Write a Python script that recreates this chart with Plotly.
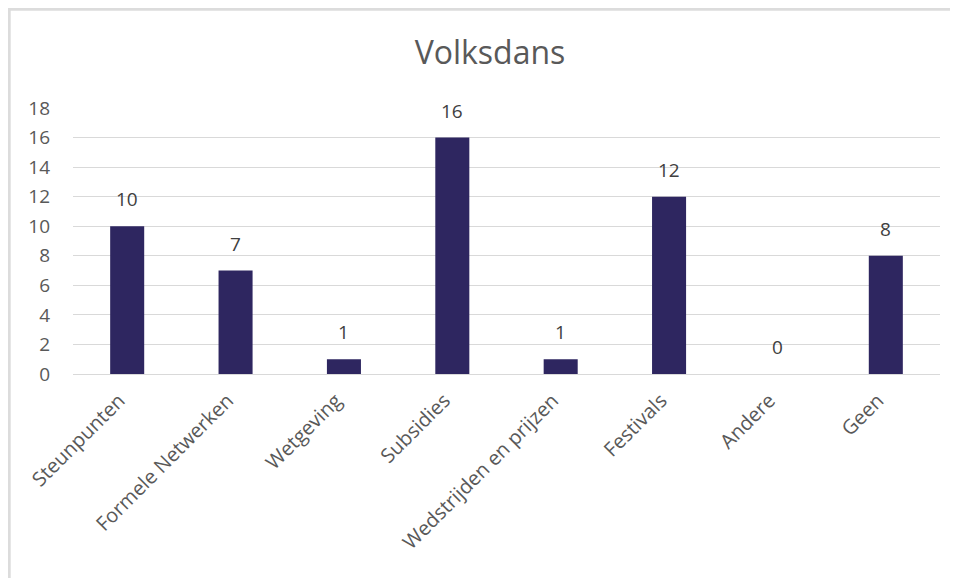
import plotly.graph_objects as go

categories = ["Steunpunten", "Formele Netwerken", "Wetgeving", "Subsidies",
              "Wedstrijden en prijzen", "Festivals", "Andere", "Geen"]
values = [10, 7, 1, 16, 1, 12, 0, 8]
y_ticks = [0, 2, 4, 6, 8, 10, 12, 14, 16, 18]

# page body has an 8px margin, so the figure is 8px smaller and offsets are shifted
OFF = 8
W, H = 958 - OFF, 578 - OFF
L, R, T, B = 73 - OFF, 958 - 940, 108 - OFF, 578 - 374
pw, ph = W - L - R, H - T - B

def px(x):
    return (x - L) / pw

def py(y):
    return (H - B - y) / ph

FONT = "Open Sans"
GREY = "#595959"

fig = go.Figure(go.Bar(
    x=categories, y=values,
    marker=dict(color="#2E2660", line=dict(color="#2E2660", width=0)),
    cliponaxis=False,
))

for c, v in zip(categories, values):
    fig.add_annotation(x=c, y=v, text=str(v), showarrow=False,
                       yanchor="middle", yshift=27,
                       font=dict(family=FONT, size=19, color="#404040"))

fig.update_layout(
    width=W, height=H,
    margin=dict(l=L, r=R, t=T, b=B, autoexpand=False),
    paper_bgcolor="white", plot_bgcolor="white",
    showlegend=False,
    bargap=0.686,
    title=dict(text="Volksdans", x=(490 - OFF) / W, xanchor="center", xref="container",
               y=1 - (53 - OFF) / H, yanchor="middle", yref="container",
               font=dict(family=FONT, size=32, color=GREY)),
    xaxis=dict(tickangle=-45, tickfont=dict(family=FONT, size=20, color=GREY),
               showgrid=False, showline=False, ticks="", fixedrange=True,
               automargin=False, ticklabelstandoff=10, ticklabelshift=-8),
    yaxis=dict(range=[0, 18], tickvals=y_ticks, showgrid=True, gridcolor="#D9D9D9",
               gridwidth=1, zeroline=True, zerolinecolor="#D9D9D9", zerolinewidth=1,
               tickfont=dict(family=FONT, size=19, color=GREY), ticks="",
               ticklabelstandoff=22, fixedrange=True, automargin=False),
)

shapes = [
    # chart box top border
    dict(type="line", xref="paper", yref="paper", x0=px(0), x1=px(W), y0=py(1.2), y1=py(1.2),
         line=dict(color="#DCDCDC", width=3)),
    # chart box left border
    dict(type="line", xref="paper", yref="paper", x0=px(1.2), x1=px(1.2), y0=py(0), y1=py(H),
         line=dict(color="#DCDCDC", width=3)),
]
fig.update_layout(shapes=shapes)

fig.write_html("out.html")
